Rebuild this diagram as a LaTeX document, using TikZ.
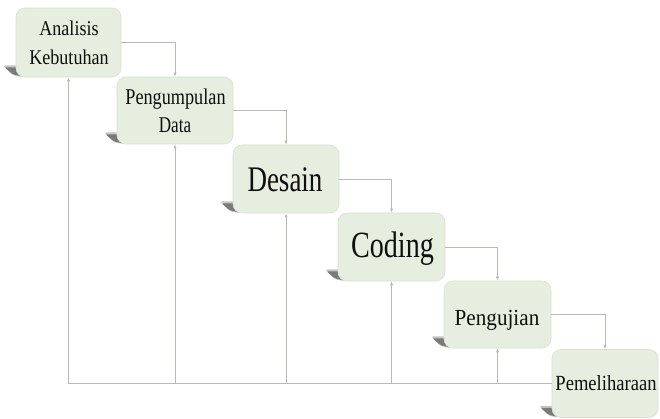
\documentclass[tikz,border=0pt]{standalone}
\usepackage{fontspec}
\setmainfont{Liberation Serif}
\usetikzlibrary{arrows.meta,calc,backgrounds}
\definecolor{boxfill}{RGB}{229,238,223}
\definecolor{boxline}{RGB}{214,226,206}
\definecolor{conn}{RGB}{184,188,176}
\definecolor{shadowc}{RGB}{90,90,90}
\definecolor{txt}{RGB}{15,15,15}
\newcommand{\sx}[2]{\scalebox{#1}[1]{#2}}
\newcommand{\shad}[1]{%
  \fill[shadowc,opacity=0.35,rounded corners=3pt] ($(#1.south west)+(-13,-12)$) -- ($(#1.south west)+(8,-12)$) -- ($(#1.south west)+(8,0)$) -- ($(#1.south west)+(-3,-2)$) -- cycle;
  \fill[shadowc,opacity=0.7,rounded corners=2pt] ($(#1.south west)+(-11,-10)$) -- ($(#1.south west)+(6,-10)$) -- ($(#1.south west)+(6,-1)$) -- ($(#1.south west)+(-3,-3)$) -- cycle;}
\tikzset{
  box/.style={rectangle,rounded corners=9pt,fill=boxfill,draw=boxline,line width=0.6pt,inner sep=0pt,minimum height=68pt},
  lbl/.style={anchor=base,inner sep=0pt,text=txt},
  conn/.style={draw=conn,line width=0.8pt,-{Latex[length=4pt,width=3.2pt]}}
}
\begin{document}
\begin{tikzpicture}[x=1pt,y=-1pt]
\useasboundingbox (0,0) rectangle (660,419);
\node[box,minimum width=105pt,minimum height=69pt] (p1) at (68.5,42.5) {};
\node[box,minimum width=116pt,minimum height=67pt] (p2) at (175,110.5) {};
\node[box,minimum width=106pt] (p3) at (286,179) {};
\node[box,minimum width=107pt] (p4) at (391.5,247) {};
\node[box,minimum width=107pt,minimum height=67pt] (p5) at (497.5,314.5) {};
\node[box,minimum width=106pt] (p6) at (605,383.5) {};
\begin{scope}[on background layer]
\shad{p1}\shad{p2}\shad{p3}\shad{p4}\shad{p5}\shad{p6}
\end{scope}
% labels
\node[lbl,font=\fontsize{21}{28}\selectfont] (t1a) at (69,36) {\sx{0.86}{Analisis}};
\node[lbl,font=\fontsize{21}{28}\selectfont] (t1b) at (69,65) {\sx{0.86}{Kebutuhan}};
\node[lbl,font=\fontsize{22.5}{28}\selectfont] (t2a) at (175.5,105) {\sx{0.81}{Pengumpulan}};
\node[lbl,font=\fontsize{22.5}{28}\selectfont] (t2b) at (175,133) {\sx{0.76}{Data}};
\node[lbl,font=\fontsize{36}{40}\selectfont] (t3) at (285,192) {\sx{0.75}{Desain}};
\node[lbl,font=\fontsize{37}{40}\selectfont] (t4) at (392.5,258) {\sx{0.76}{Coding}};
\node[lbl,font=\fontsize{23}{28}\selectfont] (t5) at (497,325) {\sx{0.92}{Pengujian}};
\node[lbl,font=\fontsize{21.6}{28}\selectfont] (t6) at (606,390) {\sx{0.86}{Pemeliharaan}};
% forward connectors
\draw[conn] (p1.east) -| (p2.north);
\draw[conn] (p2.east) -| (p3.north);
\draw[conn] (p3.east) -| (p4.north);
\draw[conn] (p4.east) -| (p5.north);
\draw[conn] (p5.east) -| (p6.north);
% feedback
\draw[conn] (p6.west) -| (p1.south);
\draw[conn] (p2.south |- p6.west) -- (p2.south);
\draw[conn] (p3.south |- p6.west) -- (p3.south);
\draw[conn] (p4.south |- p6.west) -- (p4.south);
\draw[conn] (p5.south |- p6.west) -- (p5.south);
\end{tikzpicture}
\end{document}
